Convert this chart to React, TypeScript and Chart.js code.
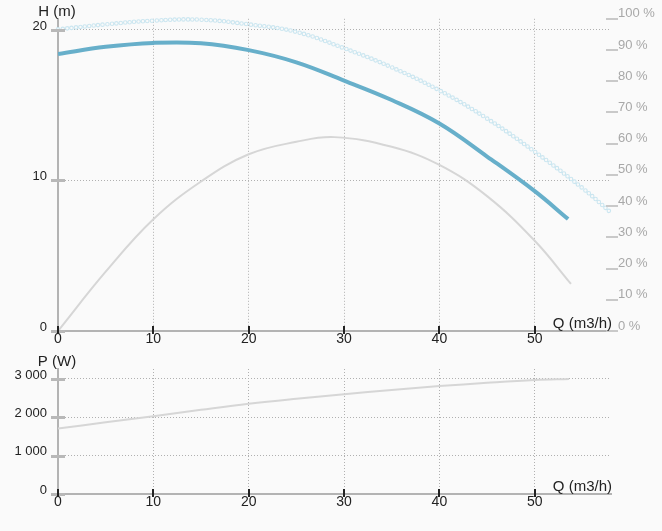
import React, { useEffect, useRef } from 'react';
import { Chart, registerables } from 'chart.js';

Chart.register(...registerables);

// ---- data ----
const flowHead = [0, 5, 10, 15, 20, 25, 30, 35, 40, 45, 50, 53.5];
const head = [18.38, 18.86, 19.12, 19.1, 18.64, 17.83, 16.62, 15.33, 13.77, 11.58, 9.28, 7.43];

const flowHeadMax = [0, 5, 10, 15, 20, 25, 30, 35, 40, 45, 50, 55, 58];
const headMax = [20.02, 20.35, 20.6, 20.66, 20.35, 19.85, 18.77, 17.5, 15.97, 14.1, 11.9, 9.49, 7.85];

const flowEff = [0, 5, 10, 15, 20, 25, 29, 35, 40, 45, 50, 53.8];
const efficiency = [0, 19, 35.8, 47.9, 56.6, 60.6, 62.1, 59, 53.2, 43.2, 28.9, 15.1];

const flowPower = [0, 5, 10, 15, 20, 25, 30, 35, 40, 45, 50, 53.6];
const power = [1708, 1870, 2027, 2195, 2354, 2485, 2602, 2715, 2814, 2900, 2973, 3000];

const qTicks = [0, 10, 20, 30, 40, 50];
const hTicks = [0, 10, 20];
const effTicks = [0, 10, 20, 30, 40, 50, 60, 70, 80, 90, 100];
const pTicks = [0, 1000, 2000, 3000];

const Q_MAX = 58;
const H_MAX = 20.72;
const EFF_MAX = 100;
const P_MAX = 3260;

const FAMILY = "'Liberation Sans', Arial, Helvetica, sans-serif";
const BG = '#fafafa';

const pts = (xs: number[], ys: number[]) => xs.map((x, i) => ({ x, y: ys[i] }));
const setTicks = (vals: number[]) => (s: any) => {
  s.ticks = vals.map((v) => ({ value: v }));
};
const spaceThousands = (v: any) =>
  String(Math.round(Number(v))).replace(/\B(?=(\d{3})+(?!\d))/g, ' ');

const decor = {
  id: 'decor',
  afterDraw(chart: any, _args: any, opts: any) {
    const { ctx, chartArea, scales } = chart;
    const line = (x1: number, y1: number, x2: number, y2: number) => {
      ctx.beginPath();
      ctx.moveTo(x1, y1);
      ctx.lineTo(x2, y2);
      ctx.stroke();
    };
    ctx.save();
    ctx.setLineDash([]);
    const y = scales.y;
    ctx.strokeStyle = '#b8b8b8';
    ctx.lineWidth = 3;
    y.ticks.forEach((_t: any, i: number) => {
      const py = Math.round(y.getPixelForTick(i)) + 0.5;
      line(y.right - 7, py, y.right + 7, py);
    });
    const y1 = scales.y1;
    if (y1) {
      ctx.strokeStyle = '#c9c9c9';
      ctx.lineWidth = 2;
      y1.ticks.forEach((_t: any, i: number) => {
        const py = Math.round(y1.getPixelForTick(i));
        line(chartArea.right - 5, py, chartArea.right + 7, py);
      });
    }
    const x = scales.x;
    ctx.strokeStyle = '#222';
    ctx.lineWidth = 2;
    x.ticks.forEach((_t: any, i: number) => {
      const px = Math.round(x.getPixelForTick(i));
      line(px, x.top - 5, px, x.top + 3);
    });
    ctx.fillStyle = '#222';
    ctx.font = `15px ${FAMILY}`;
    ctx.textAlign = 'center';
    ctx.textBaseline = 'middle';
    ctx.fillText(opts.yTitle, y.right - 1, chartArea.top - 7);
    ctx.textAlign = 'right';
    ctx.textBaseline = 'alphabetic';
    ctx.fillText(opts.xTitle, chartArea.right + 1, x.top - 3);
    ctx.restore();
  },
};

const gridOpts = { color: '#b0b0b0', lineWidth: 1, drawTicks: false };
const borderOpts = { display: true, color: '#b3b3b3', width: 2, dash: [1, 2] };
const tickFont = { family: FAMILY, size: 13 };
const xTickFont = { family: FAMILY, size: 14 };

function xScale(height: number) {
  return {
    type: 'linear' as const,
    min: 0,
    max: Q_MAX,
    afterBuildTicks: setTicks(qTicks),
    afterFit: (s: any) => {
      s.height = height;
    },
    grid: gridOpts,
    border: borderOpts,
    ticks: { color: '#222', font: xTickFont, padding: 0, maxRotation: 0, autoSkip: false },
  };
}

export default function App() {
  const topRef = useRef<HTMLCanvasElement>(null);
  const botRef = useRef<HTMLCanvasElement>(null);

  useEffect(() => {
    const ringStyle = {
      borderDash: [0, 4.5],
      borderCapStyle: 'round' as const,
      pointRadius: 0,
      tension: 0.4,
      clip: false as const,
      yAxisID: 'y',
    };
    const top = new Chart(topRef.current!, {
      type: 'line',
      data: {
        datasets: [
          {
            data: pts(flowHead, head),
            borderColor: '#67afca',
            borderWidth: 4,
            pointRadius: 0,
            tension: 0.4,
            yAxisID: 'y',
            order: 1,
          },
          {
            data: pts(flowEff, efficiency),
            borderColor: '#d6d6d6',
            borderWidth: 2,
            pointRadius: 0,
            tension: 0.4,
            yAxisID: 'y1',
            order: 2,
          },
          {
            data: pts(flowHeadMax, headMax),
            borderColor: BG,
            borderWidth: 2.4,
            ...ringStyle,
            order: 3,
          },
          {
            data: pts(flowHeadMax, headMax),
            borderColor: '#cbe6f0',
            borderWidth: 4.6,
            ...ringStyle,
            order: 4,
          },
        ],
      },
      options: {
        animation: false,
        responsive: false,
        maintainAspectRatio: false,
        layout: { padding: { top: 16, left: 0, right: 0, bottom: 0 } },
        plugins: {
          legend: { display: false },
          tooltip: { enabled: false },
          decor: { yTitle: 'H (m)', xTitle: 'Q (m3/h)' },
        } as any,
        scales: {
          x: xScale(19),
          y: {
            type: 'linear',
            position: 'left',
            min: 0,
            max: H_MAX,
            afterBuildTicks: setTicks(hTicks),
            afterFit: (s: any) => {
              s.width = 58;
            },
            grid: gridOpts,
            border: borderOpts,
            ticks: { color: '#222', font: tickFont, padding: 11, labelOffset: -3.5 },
          },
          y1: {
            type: 'linear',
            position: 'right',
            min: 0,
            max: EFF_MAX,
            afterBuildTicks: setTicks(effTicks),
            afterFit: (s: any) => {
              s.width = 51;
            },
            grid: { drawOnChartArea: false, drawTicks: false },
            border: { display: false },
            ticks: {
              color: '#a8a8a8',
              font: tickFont,
              padding: 7,
              labelOffset: -5,
              callback: (v: any) => `${v} %`,
            },
          },
        } as any,
      },
      plugins: [decor],
    });

    const bot = new Chart(botRef.current!, {
      type: 'line',
      data: {
        datasets: [
          {
            data: pts(flowPower, power),
            borderColor: '#d6d6d6',
            borderWidth: 2,
            pointRadius: 0,
            tension: 0.4,
          },
        ],
      },
      options: {
        animation: false,
        responsive: false,
        maintainAspectRatio: false,
        layout: { padding: { top: 19, left: 0, right: 51, bottom: 0 } },
        plugins: {
          legend: { display: false },
          tooltip: { enabled: false },
          decor: { yTitle: 'P (W)', xTitle: 'Q (m3/h)' },
        } as any,
        scales: {
          x: xScale(37),
          y: {
            type: 'linear',
            position: 'left',
            min: 0,
            max: P_MAX,
            afterBuildTicks: setTicks(pTicks),
            afterFit: (s: any) => {
              s.width = 58;
            },
            grid: gridOpts,
            border: borderOpts,
            ticks: {
              color: '#222',
              font: tickFont,
              padding: 11,
              labelOffset: -4,
              callback: spaceThousands,
            },
          },
        } as any,
      },
      plugins: [decor],
    });

    return () => {
      top.destroy();
      bot.destroy();
    };
  }, []);

  return (
    <div
      style={{
        position: 'fixed',
        left: 0,
        top: 0,
        width: 662,
        height: 531,
        background: BG,
        overflow: 'hidden',
      }}
    >
      <canvas
        ref={topRef}
        width={662}
        height={350}
        style={{ position: 'absolute', left: 0, top: 0, width: 662, height: 350 }}
      />
      <canvas
        ref={botRef}
        width={662}
        height={181}
        style={{ position: 'absolute', left: 0, top: 350, width: 662, height: 181 }}
      />
    </div>
  );
}
